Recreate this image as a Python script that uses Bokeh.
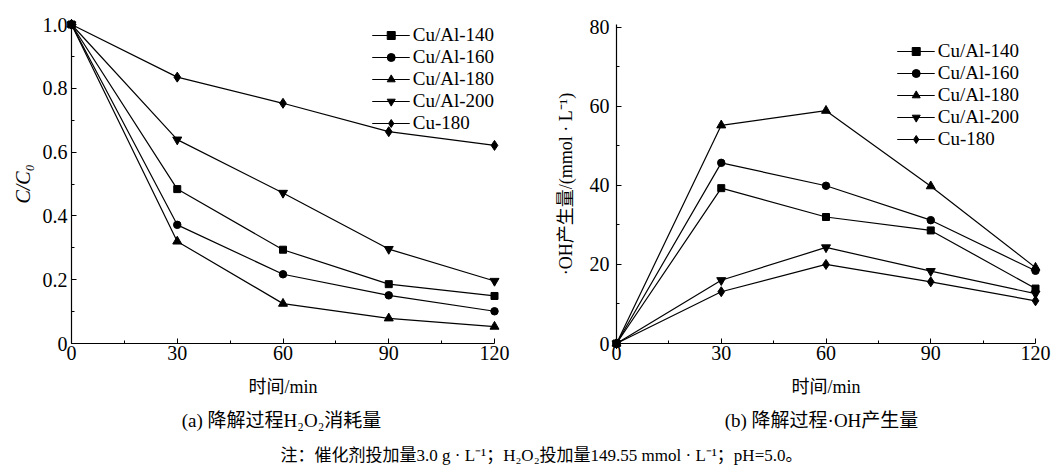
import numpy as np
from bokeh.plotting import figure
from bokeh.layouts import column, row
from bokeh.models import FixedTicker, CustomJSTickFormatter, Label, Range1d
from bokeh.embed import file_html
from bokeh.resources import INLINE

# ---------------- data ----------------
time_min = [0, 30, 60, 90, 120]
series_names = ["Cu/Al-140", "Cu/Al-160", "Cu/Al-180", "Cu/Al-200", "Cu-180"]
series_markers = ["square", "circle", "triangle", "inverted_triangle", "diamond"]

# (a) C/C0 of H2O2
h2o2_cual140 = [1.0, 0.484, 0.294, 0.186, 0.149]
h2o2_cual160 = [1.0, 0.372, 0.217, 0.151, 0.101]
h2o2_cual180 = [1.0, 0.320, 0.125, 0.079, 0.053]
h2o2_cual200 = [1.0, 0.639, 0.472, 0.296, 0.196]
h2o2_cu180 = [1.0, 0.835, 0.753, 0.664, 0.621]

# (b) .OH produced, mmol/L
oh_cual140 = [0.0, 39.3, 32.0, 28.6, 13.9]
oh_cual160 = [0.0, 45.7, 39.9, 31.2, 18.4]
oh_cual180 = [0.0, 55.2, 58.9, 39.8, 19.2]
oh_cual200 = [0.0, 16.0, 24.3, 18.3, 12.6]
oh_cu180 = [0.0, 13.1, 20.0, 15.6, 10.8]

x_ticks = [0, 30, 60, 90, 120]
x_minor_ticks = [15, 45, 75, 105]
left_y_ticks = [0, 0.2, 0.4, 0.6, 0.8, 1.0]
left_y_minor = [0.1, 0.3, 0.5, 0.7, 0.9]
right_y_ticks = [0, 20, 40, 60, 80]
right_y_minor = [10, 30, 50, 70]

x_label = "时间/min"
left_y_label = "C/C₀"
right_y_label = "·OH产生量/(mmol · L⁻¹)"
caption_a = "(a) 降解过程H₂O₂消耗量"
caption_b = "(b) 降解过程·OH产生量"
note_text = "注：催化剂投加量3.0 g · L⁻¹；H₂O₂投加量149.55 mmol · L⁻¹；pH=5.0。"

SERIF = "'Liberation Serif', 'Times New Roman', serif"
MIXED = "'Liberation Serif', 'Noto Sans CJK SC', serif"
marker_sizes = {"square": 7, "circle": 7.5, "triangle": 9,
                "inverted_triangle": 9, "diamond": 10}


def style_axis(ax, ticks, minor, standoff):
    ax.ticker = FixedTicker(ticks=ticks, minor_ticks=minor)
    ax.major_tick_in = 5
    ax.major_tick_out = 0
    ax.minor_tick_in = 3
    ax.minor_tick_out = 0
    ax.axis_line_color = "black"
    ax.axis_line_width = 1.2
    ax.major_tick_line_color = "black"
    ax.minor_tick_line_color = "black"
    ax.major_label_text_font = SERIF
    ax.major_label_text_font_size = "20px"
    ax.major_label_text_color = "black"
    ax.major_label_standoff = standoff
    ax.axis_label_text_color = "black"


def make_panel(width, height, yr, borders, ys_list, y_ticks, y_minor,
               y_std, legend_margin):
    bl, br, bt, bb = borders
    p = figure(width=width, height=height,
               x_range=Range1d(x_ticks[0], x_ticks[-1]),
               y_range=Range1d(*yr), output_backend="svg",
               toolbar_location=None, min_border_left=bl,
               min_border_right=br, min_border_top=bt, min_border_bottom=bb)
    p.outline_line_color = None
    p.grid.visible = False
    for name, ys, m in zip(series_names, ys_list, series_markers):
        p.line(time_min, ys, line_color="black", line_width=1.2,
               legend_label=name, level="overlay")
        p.scatter(time_min, ys, marker=m, size=marker_sizes[m],
                  fill_color="black", line_color="black", legend_label=name,
                  level="overlay")
    xa = p.xaxis[0]
    style_axis(xa, x_ticks, x_minor_ticks, 2)
    xa.axis_label = x_label
    xa.axis_label_text_font = MIXED
    xa.axis_label_text_font_style = "normal"
    xa.axis_label_text_font_size = "18px"
    xa.axis_label_standoff = 14
    ya = p.yaxis[0]
    style_axis(ya, y_ticks, y_minor, y_std)
    lg = p.legend[0]
    lg.location = "top_right"
    lg.margin = legend_margin
    lg.padding = 0
    lg.spacing = -2
    lg.glyph_width = 38
    lg.glyph_height = 20
    lg.label_height = 20
    lg.label_standoff = 3
    lg.background_fill_alpha = 0
    lg.border_line_alpha = 0
    lg.label_text_font = SERIF
    lg.label_text_font_size = "19px"
    lg.label_text_color = "black"
    return p


p1 = make_panel(528, 400, (0, 1.0), (71, 34, 24, 57),
                [h2o2_cual140, h2o2_cual160, h2o2_cual180, h2o2_cual200, h2o2_cu180],
                left_y_ticks, left_y_minor, 4, 0)
p1.yaxis[0].formatter = CustomJSTickFormatter(
    code="return tick == 0 ? '0' : tick.toFixed(1);")
p1.yaxis[0].axis_label = left_y_label
p1.yaxis[0].axis_label_text_font = SERIF
p1.yaxis[0].axis_label_text_font_style = "italic"
p1.yaxis[0].axis_label_text_font_size = "20px"
p1.yaxis[0].axis_label_standoff = 6

# the right axis ends slightly above its top tick, as in the original
p2 = make_panel(529, 400, (0, 80.7), (88, 22, 24, 57),
                [oh_cual140, oh_cual160, oh_cual180, oh_cual200, oh_cu180],
                right_y_ticks, right_y_minor, 7, 16)
p2.title_location = "left"
p2.title.text = right_y_label
p2.title.align = "center"
p2.title.offset = 2
p2.title.standoff = 21
p2.title.text_font = MIXED
p2.title.text_font_style = "normal"
p2.title.text_font_size = "18px"
p2.title.text_color = "black"

# captions
p3 = figure(width=1057, height=65, x_range=Range1d(0, 1057),
            y_range=Range1d(65, 0), output_backend="svg",
            toolbar_location=None, min_border=0)
p3.axis.visible = False
p3.grid.visible = False
p3.outline_line_color = None
for txt, cx, cy, fs in [(caption_a, 281, 20, "19px"),
                        (caption_b, 821, 20, "19px"),
                        (note_text, 541, 55, "17px")]:
    p3.add_layout(Label(x=cx, y=cy, text=txt, text_align="center",
                        text_baseline="middle", text_font=MIXED,
                        text_font_size=fs, text_color="black"))

layout = column(row(p1, p2), p3)
open("out.html", "w").write(file_html(layout, INLINE))
